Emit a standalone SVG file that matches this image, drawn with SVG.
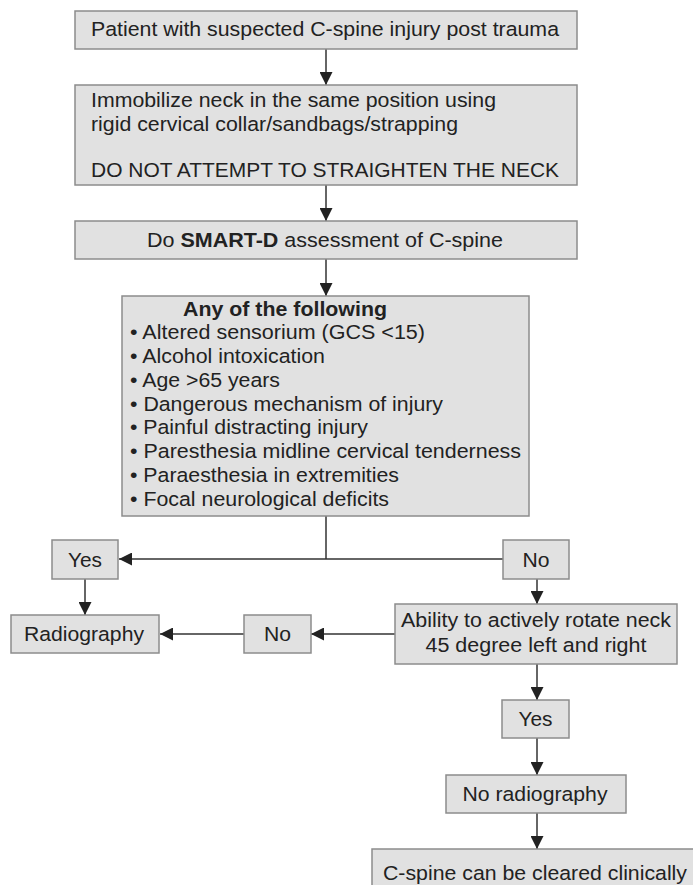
<svg xmlns="http://www.w3.org/2000/svg" width="693" height="885" viewBox="0 0 693 885">
<defs>
<style>
.box{fill:#e1e1e1;stroke:#8c8c8c;stroke-width:1.5}
.t{font-family:"Liberation Sans",Arial,sans-serif;font-size:20.5px;fill:#222}
.c{text-anchor:middle}
.b{font-weight:bold}
.ln{fill:none;stroke:#333;stroke-width:1.5}
</style>
<marker id="ah" markerUnits="userSpaceOnUse" markerWidth="13" markerHeight="13" refX="13" refY="6.5" orient="auto">
<path d="M0,0 L13,6.5 L0,13 z" fill="#222"/>
</marker>
</defs>
<rect width="693" height="885" fill="#fff"/>

<g id="connectors">
<path class="ln" d="M326,49 V85" marker-end="url(#ah)"/>
<path class="ln" d="M326,185 V221" marker-end="url(#ah)"/>
<path class="ln" d="M326,259 V296" marker-end="url(#ah)"/>
<path class="ln" d="M326,516 V559"/>
<path class="ln" d="M503,559 H119" marker-end="url(#ah)"/>
<path class="ln" d="M85,579 V615" marker-end="url(#ah)"/>
<path class="ln" d="M537,579 V604" marker-end="url(#ah)"/>
<path class="ln" d="M395,634 H311" marker-end="url(#ah)"/>
<path class="ln" d="M244,634 H160" marker-end="url(#ah)"/>
<path class="ln" d="M537,664 V700" marker-end="url(#ah)"/>
<path class="ln" d="M537,738 V775" marker-end="url(#ah)"/>
<path class="ln" d="M537,813 V849" marker-end="url(#ah)"/>
</g>

<g id="n1">
<rect class="box" x="75" y="11" width="502" height="38"/>
<text class="t" x="91" y="36" textLength="468" lengthAdjust="spacingAndGlyphs">Patient with suspected C-spine injury post trauma</text>
</g>

<g id="n2">
<rect class="box" x="75" y="85" width="502" height="100"/>
<text class="t" x="91" y="107" textLength="405" lengthAdjust="spacingAndGlyphs">Immobilize neck in the same position using</text>
<text class="t" x="91" y="131" textLength="367" lengthAdjust="spacingAndGlyphs">rigid cervical collar/sandbags/strapping</text>
<text class="t" x="91" y="177" textLength="468" lengthAdjust="spacingAndGlyphs">DO NOT ATTEMPT TO STRAIGHTEN THE NECK</text>
</g>

<g id="n3">
<rect class="box" x="75" y="221" width="502" height="38"/>
<text class="t" x="147" y="247" textLength="356" lengthAdjust="spacingAndGlyphs">Do <tspan class="b">SMART-D</tspan> assessment of C-spine</text>
</g>

<g id="n4">
<rect class="box" x="122" y="296" width="407" height="220"/>
<text class="t b" x="183" y="316" textLength="204" lengthAdjust="spacingAndGlyphs">Any of the following</text>
<text class="t" x="130" y="339" textLength="295" lengthAdjust="spacingAndGlyphs">• Altered sensorium (GCS &lt;15)</text>
<text class="t" x="130" y="363" textLength="195" lengthAdjust="spacingAndGlyphs">• Alcohol intoxication</text>
<text class="t" x="130" y="387" textLength="150" lengthAdjust="spacingAndGlyphs">• Age &gt;65 years</text>
<text class="t" x="130" y="411" textLength="313" lengthAdjust="spacingAndGlyphs">• Dangerous mechanism of injury</text>
<text class="t" x="130" y="434" textLength="238" lengthAdjust="spacingAndGlyphs">• Painful distracting injury</text>
<text class="t" x="130" y="458" textLength="391" lengthAdjust="spacingAndGlyphs">• Paresthesia midline cervical tenderness</text>
<text class="t" x="130" y="482" textLength="269" lengthAdjust="spacingAndGlyphs">• Paraesthesia in extremities</text>
<text class="t" x="130" y="506" textLength="259" lengthAdjust="spacingAndGlyphs">• Focal neurological deficits</text>
</g>

<g id="n5">
<rect class="box" x="52" y="540" width="66" height="39"/>
<text class="t c" x="85" y="567" textLength="34" lengthAdjust="spacingAndGlyphs">Yes</text>
</g>

<g id="n6">
<rect class="box" x="503" y="540" width="66" height="39"/>
<text class="t c" x="536" y="567" textLength="27" lengthAdjust="spacingAndGlyphs">No</text>
</g>

<g id="n7">
<rect class="box" x="11" y="615" width="148" height="38"/>
<text class="t c" x="84" y="641" textLength="120" lengthAdjust="spacingAndGlyphs">Radiography</text>
</g>

<g id="n8">
<rect class="box" x="244" y="615" width="67" height="38"/>
<text class="t c" x="277.5" y="641" textLength="27" lengthAdjust="spacingAndGlyphs">No</text>
</g>

<g id="n9">
<rect class="box" x="395" y="604" width="282" height="60"/>
<text class="t c" x="536" y="627" textLength="270" lengthAdjust="spacingAndGlyphs">Ability to actively rotate neck</text>
<text class="t c" x="536" y="652" textLength="221" lengthAdjust="spacingAndGlyphs">45 degree left and right</text>
</g>

<g id="n10">
<rect class="box" x="502" y="700" width="67" height="38"/>
<text class="t c" x="535.5" y="726" textLength="34" lengthAdjust="spacingAndGlyphs">Yes</text>
</g>

<g id="n11">
<rect class="box" x="446" y="775" width="180" height="38"/>
<text class="t c" x="535" y="801" textLength="145" lengthAdjust="spacingAndGlyphs">No radiography</text>
</g>

<g id="n12">
<rect class="box" x="372" y="849" width="340" height="50"/>
<text class="t" x="383" y="880" textLength="304" lengthAdjust="spacingAndGlyphs">C-spine can be cleared clinically</text>
</g>
</svg>
